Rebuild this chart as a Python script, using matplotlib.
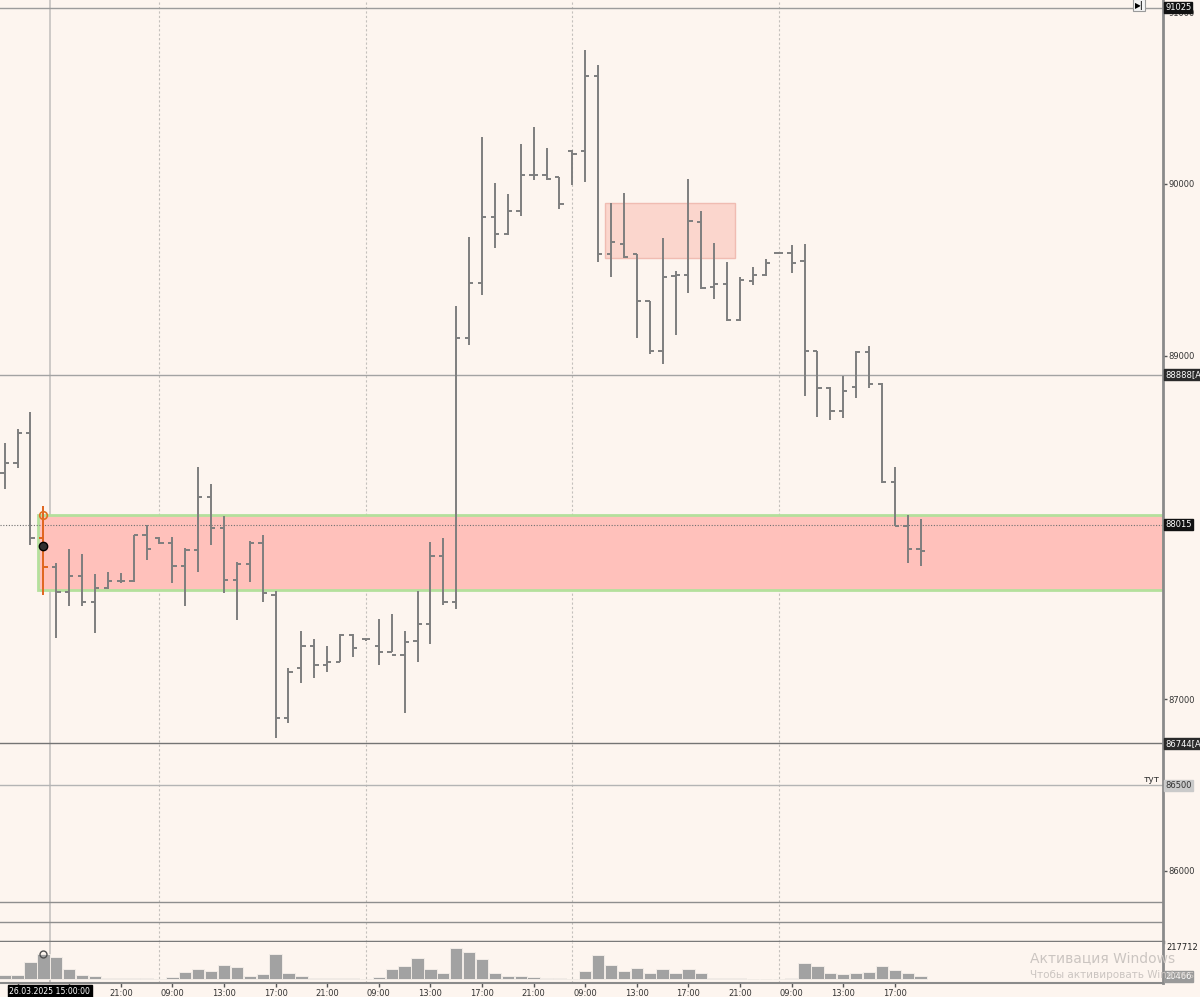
import numpy as np
import matplotlib
matplotlib.use("Agg")
import matplotlib.pyplot as plt
from matplotlib.patches import Rectangle

# ---------------- data ----------------
hours = list(range(12, 24)) + list(range(8, 24)) * 3 + list(range(8, 20))

opens = [88319, 88378, 88548, 87941, 87772, 87626, 87718, 87564, 87650, 87689, 87689, 87956,
         87937, 87908, 87778, 87869, 88176, 87995, 87694, 87786, 87912, 87607, 86889, 87180,
         87310, 87200, 87219, 87374, 87349, 87310, 87273, 87258, 87341, 87438, 87836, 87568,
         89106, 89424, 89805, 89711, 89840, 90052, 90052, 90038, 90194, 90194, 90626, 89591,
         89653, 89591, 89316, 89025, 89466, 89470, 89778, 89399, 89418, 89206, 89435, 89472,
         89597, 89597, 89549, 89025, 88811, 88680, 88817, 89023, 88836, 88264, 88010, 87875]
highs = [88490, 88572, 88671, 88125, 87795, 87875, 87846, 87727, 87739, 87733, 87956, 88015,
         87943, 87947, 87879, 88354, 88253, 88069, 87797, 87923, 87956, 87630, 87184, 87397,
         87349, 87310, 87378, 87378, 87355, 87467, 87496, 87399, 87632, 87918, 87937, 89289,
         89691, 90271, 90007, 89940, 90235, 90333, 90210, 90038, 90198, 90780, 90693, 89892,
         89950, 89595, 89320, 89684, 89493, 90027, 89840, 89657, 89543, 89460, 89518, 89566,
         89601, 89643, 89653, 89025, 88817, 88884, 89029, 89054, 88842, 88354, 88073, 88052]
lows = [88222, 88344, 87898, 87607, 87355, 87545, 87543, 87384, 87642, 87675, 87685, 87811,
        87904, 87679, 87545, 87743, 87898, 87617, 87462, 87685, 87568, 86773, 86864, 87097,
        87122, 87157, 87215, 87248, 87341, 87200, 87273, 86922, 87219, 87320, 87549, 87524,
        89060, 89352, 89628, 89701, 89813, 90023, 90023, 89857, 89992, 90013, 89545, 89456,
        89570, 89102, 89008, 88950, 89123, 89368, 89387, 89331, 89200, 89202, 89410, 89462,
        89591, 89481, 88763, 88645, 88624, 88638, 88755, 88815, 88260, 88006, 87792, 87778]
closes = [88374, 88548, 87941, 87772, 87626, 87718, 87564, 87650, 87689, 87689, 87956, 87873,
          87912, 87778, 87869, 88180, 87995, 87694, 87786, 87912, 87621, 86889, 87157, 87310,
          87200, 87219, 87374, 87296, 87349, 87273, 87258, 87335, 87438, 87836, 87568, 89106,
          89424, 89805, 89711, 89840, 90052, 90052, 90032, 89882, 90173, 90626, 89591, 89664,
          89574, 89316, 89025, 89456, 89470, 89782, 89393, 89418, 89206, 89439, 89472, 89539,
          89597, 89539, 89025, 88815, 88680, 88796, 89023, 88836, 88264, 88010, 87875, 87861]
volumes = [31000, 31000, 119000, 174000, 152000, 68000, 26000, 18000, 6600, 4400, 8800, 6600,
           2000, 13000, 48000, 66000, 53000, 97000, 84000, 20000, 33000, 170000, 42000, 20000,
           6600, 4400, 4400, 4400, 2000, 13000, 68000, 90000, 148000, 72000, 44000, 217712,
           186000, 137000, 39000, 18000, 18000, 11000, 4400, 4400, 1500, 58000, 167000, 97000,
           58000, 74000, 39000, 69000, 44000, 67000, 39000, 6000, 5000, 4000, 3000, 3000,
           1500, 5000, 109000, 90000, 39000, 32000, 39000, 51000, 90000, 63000, 39000, 20466]

label_hours = [9, 13, 17, 21]
zone_big = (87636, 88073)
zone_small = (89570, 89892)
level_lines = [91025, 88888, 86744, 86500, 85820, 85703]
crosshair_price = 88015
crosshair_label = "26.03.2025 15:00:00"

# ---------------- figure ----------------
BG = "#fdf5ef"
W, H = 1200, 997
fig = plt.figure(figsize=(W / 100, H / 100), dpi=100, facecolor=BG)

n = len(opens)
idx = np.arange(n)
x_left, x_right = -0.364, 89.79

ax = fig.add_axes([0, (H - 942) / H, 1163 / W, 942 / H])
axv = fig.add_axes([0, (H - 983) / H, 1163 / W, 41 / H], sharex=ax)
for a in (ax, axv):
    a.set_facecolor(BG)
    a.set_xlim(x_left, x_right)
    for s in ("top", "left"):
        a.spines[s].set_visible(False)
    a.spines["right"].set_color("#8a8a8a")
    a.spines["right"].set_linewidth(2)

ax.set_ylim(85586.6, 91071.3)
axv.set_ylim(-27650, 255726)
ax.spines["bottom"].set_color("#7a7a7a")
ax.spines["bottom"].set_linewidth(2.5)
axv.spines["bottom"].set_color("#8a8a8a")
axv.spines["bottom"].set_linewidth(1.5)

# zones
ax.add_patch(Rectangle((2.55, zone_big[0]), x_right - 2.55, zone_big[1] - zone_big[0],
                       facecolor="#ffc1bb", edgecolor="#b4e09c", lw=2, zorder=1))
ax.add_patch(Rectangle((46.5, zone_small[0]), 10.1, zone_small[1] - zone_small[0],
                       facecolor="#fbd6cd", edgecolor="#f0bcb2", lw=1, zorder=1))

# level lines
lcolors = ["#9c9c9c", "#a3a3a3", "#747474", "#b4b4b4", "#8e8e8e", "#8e8e8e"]
for lv, c in zip(level_lines, lcolors):
    ax.axhline(lv, color=c, lw=1, zorder=2)

# session separators
sep = [i for i, h in enumerate(hours) if h == 8]
for a in (ax, axv):
    for s in sep:
        a.axvline(s, color="#c4c0bc", lw=0.8, ls=(0, (2, 2)), zorder=0.5)
    a.axvline(3.5, color="#c9c6c3", lw=1.3, zorder=0.6)

# crosshair horizontal
ax.axhline(crosshair_price, color="#707070", lw=0.8, ls=(0, (1, 1.5)), zorder=2)

# OHLC bars
cols = ["#7e7e7e"] * n
cols[3] = "#e0641e"
ax.vlines(idx, lows, highs, colors=cols, lw=1.4, zorder=3)
ax.hlines(opens, idx - 0.33, idx, colors=cols, lw=1.4, zorder=3)
ax.hlines(closes, idx, idx + 0.33, colors=cols, lw=1.4, zorder=3)
ax.plot([3], [zone_big[1]], marker="o", mfc="none", mec="#e07020", ms=5.5, mew=1.2, zorder=4)
ax.plot([3], [87892], marker="o", mfc="#303030", mec="black", ms=6, zorder=4)

# volume
axv.bar(idx, volumes, width=0.96, color="#a2a2a2", edgecolor="#f2ece6", lw=0.7, zorder=2)
axv.plot([3], [volumes[3]], marker="o", mfc="none", mec="#505050", ms=5, mew=1, zorder=3)

# axes ticks
ax.yaxis.tick_right()
ax.set_yticks([86000, 87000, 88000, 89000, 90000, 91000])
ax.set_yticklabels(["86000", "87000", "88000", "89000", "90000", "91000"])
ax.tick_params(axis="y", direction="out", length=3, width=1, colors="#555555",
               labelsize=6, labelcolor="#333333", pad=1)
ax.tick_params(axis="x", bottom=False, labelbottom=False)

axv.set_yticks([])
tick_pos = [i for i, h in enumerate(hours) if h in label_hours]
axv.set_xticks(tick_pos)
axv.set_xticklabels(["%02d:00" % hours[i] for i in tick_pos])
axv.tick_params(axis="x", direction="out", length=3, width=1, colors="#555555",
                labelsize=6, labelcolor="#333333", pad=1.5)

# right-axis boxes
def box(axis, val, txt, fc, tc="white"):
    axis.annotate(txt, xy=(1, val), xycoords=("axes fraction", "data"), xytext=(1.5, 0),
                  textcoords="offset points", ha="left", va="center", fontsize=6, color=tc,
                  bbox=dict(boxstyle="square,pad=0.12", fc=fc, ec=fc),
                  annotation_clip=False, zorder=10)

box(ax, 91025, "91025", "#111111")
box(ax, 88888, "88888[A", "#2a2a2a")
box(ax, crosshair_price, "88015", "#111111")
box(ax, 86744, "86744[A", "#2a2a2a")
box(ax, 86500, "86500", "#cacaca", "#333333")
ax.annotate("тут", xy=(1, 86500), xycoords=("axes fraction", "data"), xytext=(-2, 4),
            textcoords="offset points", ha="right", va="center", fontsize=6.5, color="#333333",
            annotation_clip=False)
axv.annotate("217712", xy=(1, volumes[35]), xycoords=("axes fraction", "data"), xytext=(2.5, 0),
             textcoords="offset points", ha="left", va="center", fontsize=6, color="#222222",
             annotation_clip=False)
box(axv, volumes[-1], "20466", "#9a9a9a")

# crosshair time label
axv.annotate(crosshair_label, xy=(3.5, 0), xycoords=("data", "axes fraction"), xytext=(0, -6),
             textcoords="offset points", ha="center", va="center", fontsize=5.6, color="white",
             bbox=dict(boxstyle="square,pad=0.2", fc="black", ec="black"),
             annotation_clip=False, zorder=10)

# watermark
fig.text(1030 / W, 1 - 958 / H, "Активация Windows", fontsize=10, color="#cbc5c1",
         ha="left", va="center")
fig.text(1030 / W, 1 - 975 / H, "Чтобы активировать Windows", fontsize=7.5, color="#cbc5c1",
         ha="left", va="center")

# top-right button
fig.text(1139 / W, 1 - 5 / H, "▶|", fontsize=5.5, color="black", ha="center", va="center",
         fontweight="bold",
         bbox=dict(boxstyle="square,pad=0.25", fc="#f4f4f4", ec="#9a9a9a", lw=0.8))

fig.savefig("out.png", dpi=100, facecolor=BG)
